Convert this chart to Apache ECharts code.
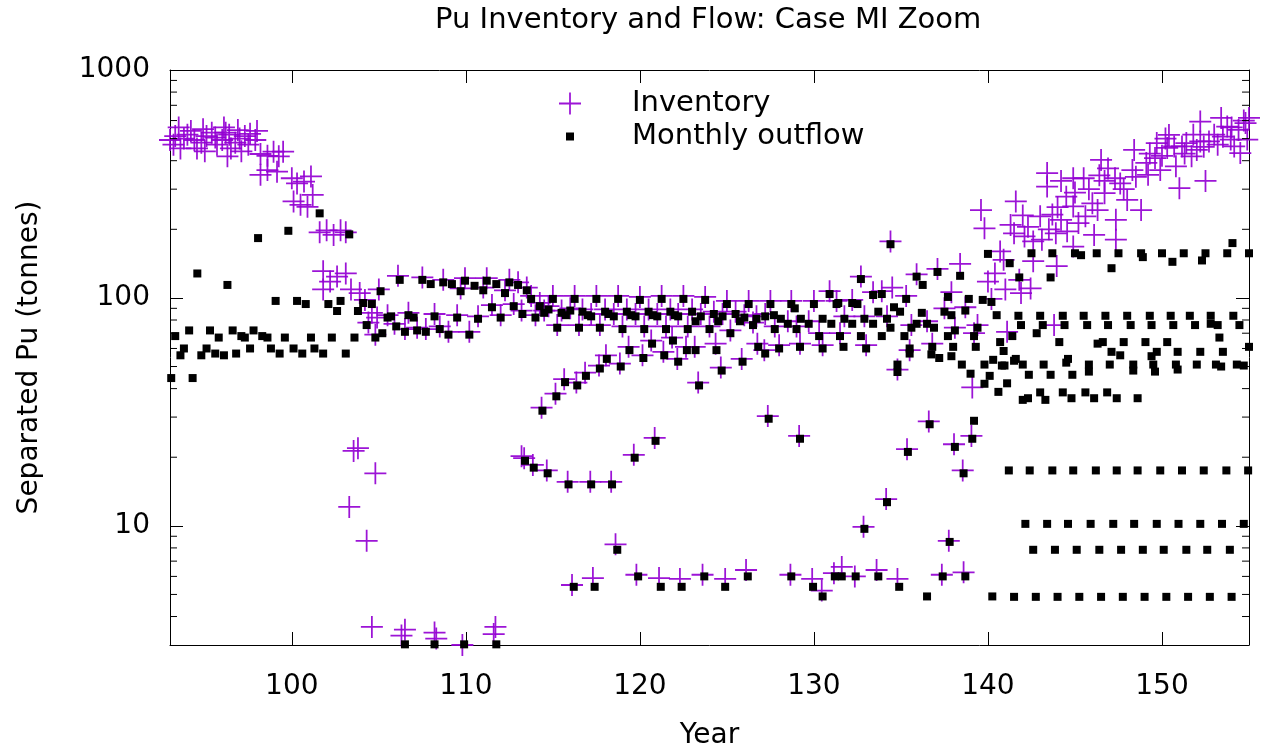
<!DOCTYPE html>
<html>
<head>
<meta charset="utf-8">
<script src="https://cdn.jsdelivr.net/npm/echarts@6/dist/echarts.min.js"></script>
<style>html,body{margin:0;padding:0;background:#fff}#c{width:1262px;height:747px}</style>
</head>
<body>
<div id="c"></div>
<script>
const titleText = 'Pu Inventory and Flow: Case MI Zoom';
const xName = 'Year';
const yName = 'Separated Pu (tonnes)';
const seriesNames = ['Inventory', 'Monthly outflow'];
const xMin = 93, xMax = 155;
const yMin = 3, yMax = 1000;
const minorTickValues = [4,5,6,7,8,9,20,30,40,50,60,70,80,90,200,300,400,500,600,700,800,900];

// Inventory (purple +), [year, tonnes]
const inventoryEarly = [
 [93.0,493],[93.2,470],[93.3,513],[93.5,560],[93.6,453],[93.8,500],[94.0,520],[94.2,540],[94.4,493],[94.55,453],
 [94.8,480],[94.9,550],[95.0,440],[95.1,513],[95.4,531],[95.6,505],[95.7,470],[96.0,493],[96.1,560],[96.2,531],
 [96.3,418],[96.4,520],[96.5,453],[96.75,480],[96.9,545],[97.0,500],[97.1,440],[97.3,513],[97.5,470],[97.6,525],
 [97.9,493],[98.0,540],[98.2,428],[98.2,347],[98.6,420],[98.6,364],[98.95,438],[99.15,358],[99.25,418],[99.5,438],
 [100.0,335],[100.3,318],[100.7,324],[101.1,341],[100.1,265],[100.5,256],[100.9,251],[101.2,283],
 [101.6,194],[102.0,198],[102.4,189],[102.8,198],[103.1,194],
 [101.8,131],[102.2,118],[102.6,124],[103.1,128],[101.8,109],[103.4,109],[103.9,105],[104.2,98],[104.6,86],[104.9,82]
];
const inventoryLow = [
 [103.55,21.3],[103.8,21.9],[104.8,17.0],[103.3,12.1],[104.3,8.6],[104.6,3.6],[106.5,3.5],[106.3,3.3],
 [108.2,3.4],[108.3,3.2],[109.8,3.0],[111.7,3.6],[111.6,3.35]
];
const inventoryBand = [
 [104.4,78],[104.8,69],[105.0,109],[105.5,84],[105.9,77],[106.1,125],[106.5,73],[106.7,86],[107.2,74],[107.5,123],
 [107.7,73],[108.2,85],[108.5,75],[108.7,120],[109.0,71],[109.5,84],[109.7,110],[109.95,122],[110.2,71],[110.7,83],
 [111.0,111],[111.2,122],[111.5,93],[112.0,84],[112.25,108],[112.5,120],[112.75,94],[113.0,117],[113.2,88],[113.5,111],
 [113.75,102],[114.0,84],[114.25,95],[114.5,88],[114.75,92],[115.0,102],[115.25,76],[115.5,88],[116.0,90],[116.25,102],
 [116.5,76],[116.7,89],[117.2,85],[117.5,102],[117.7,76],[118.0,89],[118.5,85],[118.75,102],[119.0,75],[119.25,89],
 [119.75,85],[120.0,101],[120.25,75],[120.5,89],[121.0,85],[121.25,102],[121.5,75],[121.75,89],[122.2,85],[122.5,102],
 [122.75,75],[123.0,89],[123.5,85],[123.75,101],[124.0,75],[124.25,87],[124.75,85],[125.0,97],[125.2,72],[125.5,87],
 [126.0,84],[126.25,97],[126.5,78],[126.7,83],
 [114.35,33],[115.15,38],[115.65,44],[116.35,42.5],[116.85,47],[117.65,50.5],[118.05,56],[118.85,51.5],[119.35,61],[120.15,56],
 [120.65,65],[121.35,58],[121.85,67],[122.15,54],[122.65,61],[123.15,61],[123.35,42.5],[124.35,63],[124.65,49.5],[125.85,54],
 [126.75,63],[127.15,59],
 [113.2,20.2],[113.35,19.8],[113.85,18.5],[114.65,17.5],[115.85,15.6],[117.15,15.6],[118.35,15.6],[119.65,20.5],[120.85,24.3],[118.6,8.3],
 [116.1,5.5],[117.3,5.9],[119.8,6.1],[121.1,5.9],[122.3,5.85],[123.6,6.1],[124.9,5.85],[126.1,6.4],[127.35,30.3],[128.65,6.1],
 [129.15,24.8],[129.9,5.85],[130.45,5.2],[131.15,6.2],[131.6,6.6],[132.35,6.0],[132.85,9.9],[133.6,6.4],[134.15,13.1],[134.8,5.85],
 [135.35,21.7],[136.6,28.7],[137.35,6.1],[137.75,8.6],[138.05,22.8],[138.55,17.5],[138.6,6.25],[139.05,24.8],[139.1,40.5],
 [127.2,85],[127.5,97],[127.75,75],[128.0,62],[128.5,79],[128.7,97],[129.0,75],[129.2,63],[129.7,79],[130.0,97],
 [130.3,70],[130.5,62],[130.9,107],[131.3,97],[131.5,70],[131.75,83],[132.2,98],[132.7,124],[132.9,83],[133.0,62],
 [133.4,106],[133.9,107],[134.2,83],[134.4,177],[134.5,111],[134.8,48.5],[135.3,102],[135.5,59],[135.6,76],[135.9,127],
 [136.5,79],[136.8,63],[137.1,134],[137.5,90],[137.9,106],[138.1,74],[138.4,141],[138.7,91],[139.2,70],[139.4,76],
 [139.6,243],[139.8,202],[140.0,118],[140.4,128],[140.2,99],[140.7,160],[140.9,147]
];
const inventoryLate = [
 [141.0,109],[141.1,71],[141.3,209],[141.5,192],[141.6,265],[141.8,120],[141.9,105],[142.1,186],[142.45,110],[142.6,177],
 [142.6,145],[143.0,228],[143.4,353],[143.4,308],[143.7,232],[143.8,76],[143.9,192],[143.95,138],[144.2,220],[144.2,326],
 [144.5,278],[144.55,196],[144.9,168],[144.9,252],[144.9,335],[145.2,213],[145.5,335],[145.6,228],[146.1,189],[146.3,243],
 [146.4,345],[146.5,403],[146.7,326],[146.7,288],[147.3,335],[147.35,220],[147.35,180],[147.6,318],[148.0,269],[148.3,364],
 [148.4,446],[148.8,243],[149.1,391],[149.2,347],[149.6,411],[149.7,478],[149.9,364],[150.3,455],[150.4,519],[150.7,462],
 [150.8,378],[151.0,303],[151.15,462],[151.4,478],[151.7,418],[152.0,446],[152.2,594],[152.2,486],[152.5,326],[152.7,486],
 [153.4,616],[153.5,510],[153.75,565],[153.95,495],[154.15,462],[154.4,546],[154.5,432],[154.8,585],[154.9,495],[155.0,616],
 [142.0,230],[142.3,205],[143.1,180],[143.5,200],[144.0,250],[145.0,290],[145.8,300],[146.0,260],[146.9,370],[147.8,300],
 [148.5,340],[149.3,430],[150.0,420],[150.2,500],[151.3,430],[151.8,520],[152.4,460],[153.0,520],[153.2,470],[154.0,560],[154.7,600]
];

// Monthly outflow (black squares), [year, tonnes]
const outflowEarly = [
 [93.07,44.5],[94.3,44.5],[93.3,68],[93.6,56],[93.8,60],[94.1,72],[94.57,128],[94.8,56],[95.1,60],[95.3,72],
 [95.6,57],[95.8,67],[96.1,56],[96.3,114],[96.6,72],[96.8,57],[97.1,68],[97.3,67],[97.6,60],[97.8,72],
 [98.06,183],[98.3,68],[98.6,67],[98.8,60],[99.07,97],[99.3,57],[99.6,67],[99.8,197],[100.1,60],[100.3,97],
 [100.6,57],[100.8,94],[101.1,67],[101.3,60],[101.6,235],[101.8,57],[102.1,94],[102.3,67],[102.6,87.6],[102.8,97],
 [103.1,57],[103.3,190],[103.6,67],[103.8,87.6],[104.1,95],[104.3,76],[104.6,94],[104.8,67],[105.1,107],[105.2,70],
 [105.5,82],[105.7,83],[106.0,75],[106.2,120],[106.5,71],[106.7,84],[107.0,82],[107.2,72],[107.5,120],[107.7,71],
 [107.98,115],[108.2,83],[108.5,73],[108.7,117],[109.0,69],[109.2,115],[109.5,82],[109.7,107],[109.95,119],[110.2,69],
 [110.5,113],[110.7,81],[111.0,108],[111.2,119],[111.5,91],[111.75,115],[112.0,82],[112.25,105],[112.5,117],[112.75,92],
 [113.0,114],[113.25,85],
 [106.5,3.02],[108.2,3.02],[109.9,3.02],[111.75,3.02]
];
const outflowBand = [
 [113.5,108],[113.75,99],[114.0,82],[114.25,92],[114.5,86],[114.75,89],[115.0,99],[115.25,74],[115.5,86],[115.75,84],
 [116.0,88],[116.25,99],[116.5,74],[116.7,87],[117.0,84],[117.2,83],[117.5,99],[117.7,74],[118.0,87],[118.2,85],
 [118.5,83],[118.75,99],[119.0,73],[119.25,87],[119.5,84],[119.75,83],[120.0,98],[120.25,73],[120.5,87],[120.75,84],
 [121.0,83],[121.25,99],[121.5,73],[121.75,87],[122.0,84],[122.2,83],[122.5,99],[122.75,73],[123.0,87],[123.2,79],
 [123.5,83],[123.75,98],[124.0,73],[124.25,85],[124.5,79],[124.75,83],[125.0,94],[125.2,70],[125.5,85],[125.75,79],
 [126.0,82],[126.25,94],[126.5,76],[126.7,81],
 [127.2,83],[127.5,94],[127.7,84],[127.75,73],[128.0,60],[128.1,81],[128.5,77],[128.7,94],[128.9,90],[129.0,73],
 [129.2,61],[129.25,81],[129.7,77],[130.0,94],[130.3,68],[130.5,81],[130.5,60],[130.9,104],[131.0,77],[131.3,94],
 [131.4,95],[131.5,68],[131.7,61],[131.75,81],[132.2,95],[132.2,77],[132.5,94],[132.7,121],[132.7,68],[132.9,81],
 [133.0,60],[133.4,103],[133.4,77],[133.7,87],[133.9,104],[133.9,68],[134.2,81],[134.4,172],[134.4,74],[134.6,91],
 [134.8,51],[134.8,47.3],[134.95,87],[135.2,68],[135.3,99],[135.5,57],[135.5,60],[135.6,74],[135.9,124],[135.9,77],
 [136.2,86],[136.25,114],[136.5,77],[136.75,56.5],[136.8,61],[136.9,74],[137.1,130],[137.2,54.5],[137.5,87],[137.7,101],
 [137.7,68],[137.9,84],[137.9,55.5],[138.0,61],[138.1,72],[138.4,125],[138.5,51],[138.7,88],[138.9,99],[139.0,46.5],
 [139.2,68],[139.3,61],[139.4,74],[139.7,98],[139.8,51],[139.8,42],[140.0,156],[140.1,45.5],[140.2,96],[140.3,53.5],
 [140.5,84],[140.6,38.7],[140.7,64],[140.8,50.5]
];
const outflowStrands = [
 [113.4,19.3],[113.9,18],[114.7,17],[115.9,15.2],[117.2,15.2],[118.4,15.2],[119.7,19.9],[120.9,23.6],
 [114.4,32],[115.2,37],[115.7,42.7],[116.4,41.3],[116.9,45.5],[117.7,49],[118.1,54],[118.9,50],[119.4,59],[120.2,54.5],
 [120.7,63],[121.4,56],[121.9,65],[122.2,52.5],[122.7,59],[123.2,59],[123.4,41.3],[124.4,59],[124.7,48],[125.9,52.5],
 [126.8,61],[127.2,57],
 [116.2,5.4],[117.4,5.4],[118.7,7.85],[119.9,6.0],[121.2,5.4],[122.4,5.4],[123.7,6.0],[124.9,5.4],[126.2,6.0],[127.4,29.5],
 [128.7,6.0],[129.2,24.1],[129.95,5.4],[130.5,4.9],[131.2,6.0],[131.6,6.0],[132.4,6.0],[132.9,9.7],[133.7,6.0],[134.2,12.7],
 [134.9,5.4],[135.4,21.1],[136.5,4.9],[136.65,27.9],[137.4,6.0],[137.8,8.5],[138.1,22.2],[138.6,17],[138.7,6.0],[139.1,24.1],
 [139.2,28.9],[140.25,4.9]
];
const outflowLate = [
 [141.25,142],[141.8,123],[142.5,157],[143.6,123],[143.7,157],[145.0,157],[145.35,154],[146.25,157],[147.1,135],[147.5,157],
 [148.8,157],[148.9,151],[150.0,157],[150.6,144],[151.25,157],[152.3,146],[152.5,157],[153.75,157],[154.05,174],[155.0,157],
 [141.75,83.5],[143.0,83.5],[144.3,83.5],[145.5,83.5],[146.75,83.5],[148.0,83.5],[149.3,83.5],[150.5,83.5],[151.6,83.5],[152.8,83.5],[154.1,83.5],
 [141.9,76],[143.15,76],[144.4,76],[145.7,76],[146.9,76],[148.2,76],[149.4,76],[150.65,76],[151.9,76],[152.8,77],[153.2,76],[154.45,76],
 [140.9,58.5],[141.4,68],[142.8,70],[153.3,67],[144.1,64],[146.3,63],[146.6,64],[147.8,64],[149.05,64],[150.3,64],
 [147.1,58],[147.6,56],[149.4,55.5],[149.7,58],[150.9,58],[152.2,58],[153.5,58],[155.0,61],[141.6,54],[144.6,54],
 [140.95,50.5],[141.5,53],[142.0,51],[143.2,51],[144.5,52],[145.8,51],[145.8,47.5],[147.0,51],[148.35,51],[148.35,48],
 [149.5,51],[149.6,47.5],[150.8,51],[150.9,48.5],[152.0,51],[153.1,51],[153.4,50],[154.3,51],[154.7,50.5],
 [142.35,46],[143.6,46],[144.85,46],[141.1,42.2],
 [142.0,35.7],[142.3,36.3],[143.0,38.5],[143.3,35.7],[144.3,38.5],[144.8,36.3],[145.6,38.5],[146.1,36.3],[146.85,38.5],[147.4,36.3],[148.6,36.3]
];
const outflowRows = [
 [141.2,17.5],[142.4,17.5],[143.7,17.5],[144.9,17.5],[146.2,17.5],[147.4,17.5],[148.6,17.5],[149.9,17.5],[151.15,17.5],[152.4,17.5],[153.7,17.5],[154.95,17.5],
 [142.15,10.2],[143.4,10.2],[144.6,10.2],[145.9,10.2],[147.2,10.2],[148.4,10.2],[149.7,10.2],[150.95,10.2],[152.2,10.2],[153.45,10.2],[154.7,10.2],
 [142.6,7.85],[143.85,7.85],[145.1,7.85],[146.4,7.85],[147.65,7.85],[148.9,7.85],[150.1,7.85],[151.4,7.85],[152.6,7.85],[153.9,7.85],
 [141.5,4.88],[142.75,4.88],[144.0,4.88],[145.25,4.88],[146.5,4.88],[147.75,4.88],[149.0,4.88],[150.25,4.88],[151.5,4.88],[152.75,4.88],[154.0,4.88]
];

const FONT = 'DejaVu Sans';
const PURPLE = '#9400d3';
const crossPath = 'path://M0,9.2H20V10.8H0Z M9.2,0H10.8V20H9.2Z';

const chart = echarts.init(document.getElementById('c'), null, {renderer: 'canvas'});
const fmt = v => String(+Number(v).toPrecision(6));
const tickStyle = {lineStyle: {color: '#000', width: 1}};

const option = {
  backgroundColor: '#fff',
  animation: false,
  textStyle: {fontFamily: FONT},
  title: {
    text: titleText, left: 435, top: 6, padding: 0,
    textStyle: {fontFamily: FONT, fontSize: 29, fontWeight: 'normal', color: '#000'}
  },
  legend: [
    {
      data: [{name: seriesNames[0], icon: crossPath}],
      left: 559, top: 89, padding: 0, itemWidth: 22, itemHeight: 22,
      textStyle: {fontFamily: FONT, fontSize: 29, color: '#000', padding: [0, 0, 0, 46]},
      selectedMode: false
    },
    {
      data: [{name: seriesNames[1], icon: 'rect'}],
      left: 566, top: 122, padding: 0, itemWidth: 8, itemHeight: 8,
      textStyle: {fontFamily: FONT, fontSize: 29, color: '#000', padding: [0, 0, 0, 53]},
      selectedMode: false
    }
  ],
  grid: {left: 170, right: 13, top: 70, bottom: 102, containLabel: false, outerBoundsMode: 'none'},
  xAxis: [
    {
      type: 'value', min: xMin, max: xMax, splitNumber: 6, position: 'bottom',
      name: xName, nameLocation: 'middle', nameGap: 77,
      nameTextStyle: {fontFamily: FONT, fontSize: 28, color: '#000'},
      axisLine: {show: true, onZero: false, lineStyle: {color: '#000', width: 1}},
      axisTick: {show: true, inside: true, length: 13, ...tickStyle},
      axisLabel: {show: true, margin: 28, fontFamily: FONT, fontSize: 28, color: '#000', showMinLabel: false, showMaxLabel: false, formatter: fmt},
      splitLine: {show: false}
    },
    {
      type: 'value', min: xMin, max: xMax, splitNumber: 6, position: 'top',
      axisLine: {show: true, onZero: false, lineStyle: {color: '#000', width: 1}},
      axisTick: {show: true, inside: true, length: 13, ...tickStyle},
      axisLabel: {show: false},
      splitLine: {show: false}
    }
  ],
  yAxis: [
    {
      type: 'log', logBase: 10, min: yMin, max: yMax, position: 'left',
      name: yName, nameLocation: 'middle', nameGap: 126, nameRotate: 90,
      nameTextStyle: {fontFamily: FONT, fontSize: 28, color: '#000'},
      axisLine: {show: true, onZero: false, lineStyle: {color: '#000', width: 1}},
      axisTick: {show: true, inside: true, length: 13, ...tickStyle},
      axisLabel: {show: true, margin: 20, fontFamily: FONT, fontSize: 28, color: '#000', showMinLabel: false, formatter: fmt},
      splitLine: {show: false}
    },
    {
      type: 'log', logBase: 10, min: yMin, max: yMax, position: 'right',
      axisLine: {show: true, onZero: false, lineStyle: {color: '#000', width: 1}},
      axisTick: {show: true, inside: true, length: 13, ...tickStyle},
      axisLabel: {show: false},
      splitLine: {show: false}
    }
  ],
  series: [
    {
      type: 'custom', name: 'minorTicks', xAxisIndex: 0, yAxisIndex: 0, silent: true, z: 10,
      encode: {x: 0, y: 1},
      data: minorTickValues.map(v => [xMin, v]),
      renderItem: function (params, api) {
        const v = api.value(1);
        const pL = api.coord([xMin, v]);
        const pR = api.coord([xMax, v]);
        return {
          type: 'group',
          children: [
            {type: 'line', shape: {x1: pL[0], y1: pL[1], x2: pL[0] + 7, y2: pL[1]}, style: {stroke: '#000', lineWidth: 1}},
            {type: 'line', shape: {x1: pR[0] - 7, y1: pR[1], x2: pR[0], y2: pR[1]}, style: {stroke: '#000', lineWidth: 1}}
          ]
        };
      }
    },
    {
      type: 'scatter', name: seriesNames[0], xAxisIndex: 0, yAxisIndex: 0,
      symbol: crossPath, symbolSize: 22, symbolKeepAspect: true,
      itemStyle: {color: PURPLE, opacity: 0.92},
      data: [].concat(inventoryEarly, inventoryLow, inventoryBand, inventoryLate),
      z: 2
    },
    {
      type: 'scatter', name: seriesNames[1], xAxisIndex: 0, yAxisIndex: 0,
      symbol: 'rect', symbolSize: 8,
      itemStyle: {color: '#000', opacity: 1},
      data: [].concat(outflowEarly, outflowBand, outflowStrands, outflowLate, outflowRows),
      z: 3
    }
  ]
};
chart.setOption(option);
</script>
</body>
</html>
